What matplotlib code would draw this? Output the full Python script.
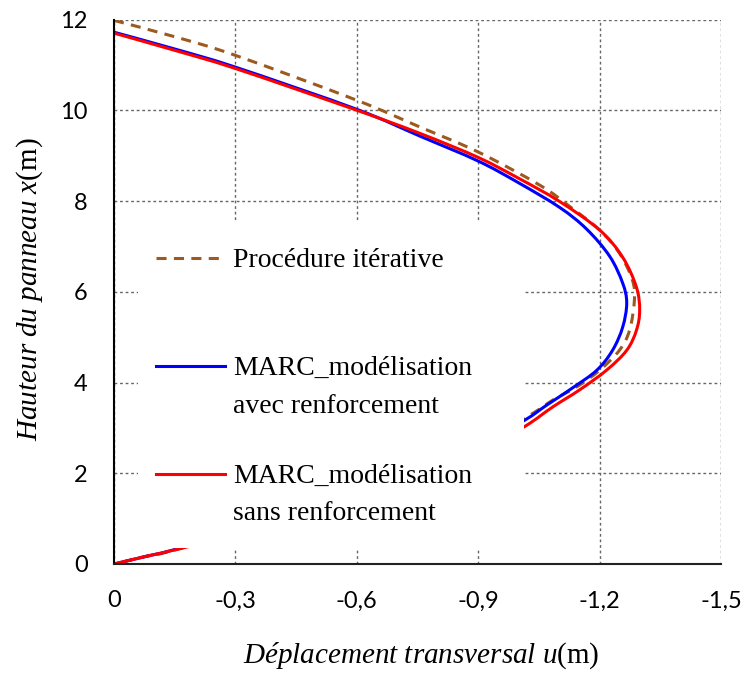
import matplotlib
matplotlib.use("Agg")
import matplotlib.pyplot as plt
import numpy as np
from matplotlib.patches import Rectangle, PathPatch
from matplotlib.lines import Line2D
from matplotlib.path import Path

plt.rcParams['mathtext.fontset'] = 'custom'
plt.rcParams['mathtext.it'] = 'Liberation Serif:italic'
plt.rcParams['mathtext.rm'] = 'Liberation Serif'

# ---- data (u in m, x = height in m) ----
iter_u = [0, -0.15, -0.3, -0.6, -0.756, -0.9, -1.052, -1.126, -1.2, -1.249, -1.281, -1.286,
          -1.274, -1.249, -1.2, -1.143, -1.084, -1.027, -0.9, -0.6, -0.168, -0.08, 0]
iter_x = [11.98, 11.62, 11.21, 10.22, 9.63, 9.08, 8.35, 7.88, 7.36, 6.85, 6.26, 5.81,
          5.15, 4.71, 4.27, 3.90, 3.61, 3.28, 2.7, 1.45, 0.35, 0.17, 0]

avec_u = [0, -0.15, -0.3, -0.6, -0.756, -0.9, -1.0, -1.101, -1.168, -1.225, -1.257, -1.267,
          -1.257, -1.232, -1.193, -1.133, -1.069, -1.015, -0.9, -0.6, -0.168, -0.08, 0]
avec_x = [11.72, 11.35, 10.95, 10.02, 9.43, 8.88, 8.40, 7.86, 7.38, 6.78, 6.19, 5.75,
          5.22, 4.71, 4.27, 3.88, 3.50, 3.17, 2.6, 1.4, 0.36, 0.17, 0]

sans_u = [0, -0.15, -0.3, -0.6, -0.756, -0.9, -1.0, -1.101, -1.2, -1.257, -1.291, -1.299,
          -1.291, -1.267, -1.217, -1.151, -1.084, -1.015, -0.9, -0.6, -0.168, -0.08, 0]
sans_x = [11.70, 11.32, 10.92, 10.00, 9.49, 8.96, 8.50, 7.99, 7.36, 6.76, 6.10, 5.59,
          5.15, 4.71, 4.27, 3.84, 3.46, 3.03, 2.45, 1.3, 0.35, 0.17, 0]

xticks = [0, -0.3, -0.6, -0.9, -1.2, -1.5]
xticklabels = ['0', '-0,3', '-0,6', '-0,9', '-1,2', '-1,5']
yticks = [0, 2, 4, 6, 8, 10, 12]

labels = ['Procédure itérative',
          'MARC_modélisation\navec renforcement',
          'MARC_modélisation\nsans renforcement']
colors = ['#9C5A1E', '#0000FF', '#FF0000']


def smooth_path(u, x):
    """Smoothed line (Catmull-Rom as cubic Bezier) through the data points."""
    p = np.column_stack([u, x]).astype(float)
    ext = np.vstack([p[0], p, p[-1]])
    verts = [p[0]]
    codes = [Path.MOVETO]
    for i in range(1, len(ext) - 2):
        p0, p1, p2, p3 = ext[i - 1], ext[i], ext[i + 1], ext[i + 2]
        verts += [p1 + (p2 - p0) / 6.0, p2 - (p3 - p1) / 6.0, p2]
        codes += [Path.CURVE4] * 3
    return Path(verts, codes)


fig = plt.figure(figsize=(7.44, 6.78), dpi=100)
ax = fig.add_axes([114/744, 1-564/678, (721-114)/744, (564-19.5)/678])

lw = 2.2
dash = (0, (3.3, 2.4))
series = [(iter_u, iter_x, dash), (avec_u, avec_x, '-'), (sans_u, sans_x, '-')]
for i, (u, x, ls) in enumerate(series):
    ax.add_patch(PathPatch(smooth_path(u, x), fill=False, edgecolor=colors[i],
                           lw=lw, linestyle=ls, zorder=3 + i, capstyle='butt'))

ax.set_xlim(0, -1.5)
ax.set_ylim(0, 12)
ax.set_xticks(xticks)
ax.set_xticklabels(xticklabels)
ax.set_yticks(yticks)
ax.grid(True, color='#666666', lw=1.0, linestyle=(0, (2, 2)))
ax.set_axisbelow(True)
ax.tick_params(length=0, pad=19, labelsize=17)
for lab in ax.get_xticklabels() + ax.get_yticklabels():
    lab.set_family(['Lato', 'DejaVu Sans'])
ax.spines['top'].set_visible(False)
ax.spines['right'].set_visible(False)
ax.spines['left'].set_color('black')
ax.spines['left'].set_linewidth(1.5)
ax.spines['bottom'].set_color('#222222')
ax.spines['bottom'].set_linewidth(1.5)
ax.spines['left'].set_zorder(7)
ax.spines['bottom'].set_zorder(7)

# legend (white box with handles and labels)
x0, x1 = (138-114)/607, (524-114)/607
y0, y1 = (564-548)/544.5, (564-221)/544.5
ax.add_patch(Rectangle((x0, y0), x1-x0, y1-y0, transform=ax.transAxes,
                       facecolor='white', edgecolor='none', zorder=6))
hx0, hx1 = (156-114)/607, (225-114)/607
tx = (233-114)/607
handle_y = [(564-258)/544.5, (564-366)/544.5, (564-474)/544.5]
base_y = [[(564-267)/544.5], [(564-375)/544.5, (564-413)/544.5],
          [(564-483)/544.5, (564-520)/544.5]]
styles = [dash, '-', '-']
for i in range(3):
    ax.add_line(Line2D([hx0, hx1], [handle_y[i]]*2, transform=ax.transAxes,
                       color=colors[i], lw=lw, linestyle=styles[i], zorder=8))
    for line, by in zip(labels[i].split('\n'), base_y[i]):
        ax.text(tx, by, line, transform=ax.transAxes, fontsize=20,
                family='Liberation Serif', ha='left', va='baseline', zorder=8)

fig.text(421/744, 1-663/678, r'$\mathit{Déplacement\ transversal\ u}\mathrm{(m)}$',
         fontsize=21, ha='center', va='baseline')
fig.text(37/744, 1-289/678, r'$\mathit{Hauteur\ du\ panneau\ x}\mathrm{(m)}$',
         fontsize=21, ha='center', va='baseline', rotation=90, rotation_mode='anchor')

fig.savefig('out.png', dpi=100)
